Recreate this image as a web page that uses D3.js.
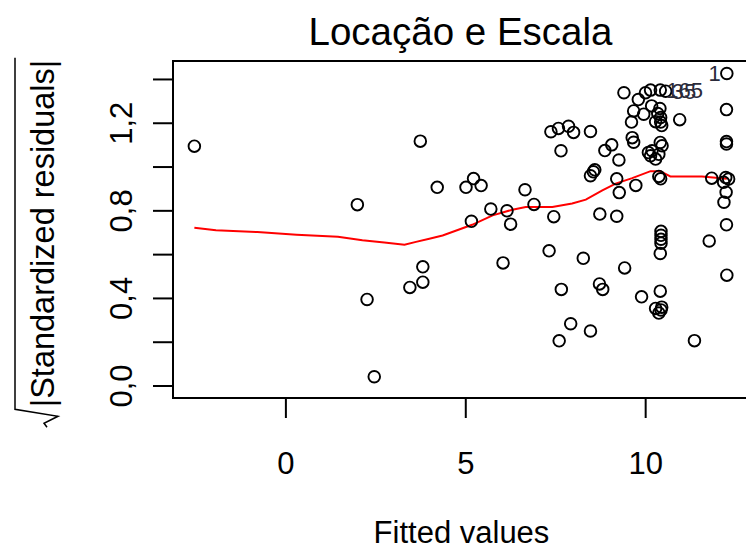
<!DOCTYPE html>
<html>
<head>
<meta charset="utf-8">
<script src="https://cdn.jsdelivr.net/npm/d3@7"></script>
<style>
  body { margin: 0; background: #fff; }
  svg { display: block; font-family: "Liberation Sans", Arial, sans-serif; }
</style>
</head>
<body>
<div id="chart"></div>
<script>
// fitted values and sqrt(|standardized residuals|)
var fitted = [-2.53, 2.00, 2.27, 2.47, 3.46, 3.75, 3.82, 3.82, 4.22, 5.02,
    5.23, 5.44, 5.17, 5.71, 6.05, 6.16, 6.26, 6.66, 6.91, 7.33,
    7.38, 7.46, 7.59, 7.61, 7.66, 7.67, 7.87, 7.93, 8.01, 8.28,
    8.48, 8.48, 8.48, 8.56, 8.60, 8.74, 8.73, 8.82, 8.88, 9.07,
    9.21, 9.21, 9.27, 9.28, 9.41, 9.43, 9.62, 9.64, 9.68, 9.68,
    9.74, 9.81, 9.90, 9.96, 10.01, 10.15, 10.42, 10.57, 10.18, 10.41,
    10.35, 10.43, 10.29, 10.43, 10.46, 10.96, 10.09, 10.15, 10.19, 10.29,
    10.38, 10.42, 10.47, 10.38, 10.43, 10.44, 10.44, 10.44, 10.44, 10.42,
    10.42, 10.29, 10.44, 10.38, 10.46, 11.37, 11.78, 11.85, 12.24, 12.32,
    12.18, 12.25, 12.19, 12.26, 12.27, 12.26, 12.26, 12.26, 12.27];
var sqrtRes = [1.093, 0.826, 0.393, 0.040, 0.448, 1.116, 0.542, 0.472, 0.905, 0.905,
    0.945, 0.913, 0.750, 0.806, 0.560, 0.798, 0.737, 0.894, 0.827, 0.615,
    1.159, 0.771, 1.174, 0.204, 1.072, 0.439, 1.184, 0.282, 1.156, 0.581,
    1.160, 0.249, 0.958, 0.976, 0.985, 0.783, 0.464, 0.439, 1.073, 1.099,
    0.773, 0.944, 1.030, 0.881, 1.337, 0.537, 1.203, 1.132, 1.111, 1.254,
    0.914, 1.306, 0.405, 1.239, 1.337, 1.349, 1.349, 1.344, 1.277, 1.265,
    1.242, 1.224, 1.205, 1.203, 1.187, 1.214, 1.064, 1.049, 1.072, 1.034,
    1.056, 1.110, 1.095, 0.955, 0.944, 0.704, 0.686, 0.668, 0.650, 0.603,
    0.431, 0.352, 0.345, 0.331, 0.358, 0.205, 0.660, 0.947, 0.950, 0.943,
    0.928, 0.883, 0.837, 0.734, 0.504, 1.114, 1.103, 1.260, 1.425];

// red smoother
var smoothX = [-2.53, -1.93, -0.78, 0.31, 1.46, 2.14, 2.75, 3.31, 3.63, 4.00,
    4.37, 4.79, 5.19, 5.76, 6.31, 6.68, 7.42, 7.97, 8.35, 8.81,
    9.18, 9.64, 10.15, 10.42, 10.70, 11.58, 12.27];
var smoothY = [0.721, 0.709, 0.701, 0.689, 0.679, 0.663, 0.653, 0.643, 0.656, 0.670,
    0.685, 0.710, 0.734, 0.777, 0.803, 0.815, 0.815, 0.831, 0.849, 0.891,
    0.922, 0.947, 0.979, 0.979, 0.955, 0.955, 0.944];

// labelled observations (index into the arrays above)
var idIndex = [98, 56, 57];
var idText = ["1", "165", "35"];
var idPos = ["left", "right", "right"];

var xTicks = [0, 5, 10];
var yTicks = [0, 0.2, 0.4, 0.6, 0.8, 1.0, 1.2, 1.4];
var yTickLabels = [0, 0.4, 0.8, 1.2];

var W = 746, H = 550;
var plotL = 173, plotR = 750, plotT = 61, plotB = 398;

var svg = d3.select("#chart").append("svg")
    .attr("width", W)
    .attr("height", H);

// R-style 4% expansion
var xr = d3.extent(fitted), xp = (xr[1] - xr[0]) * 0.04;
var ymax = d3.max(sqrtRes), yp = ymax * 0.04;

var x = d3.scaleLinear().domain([xr[0] - xp, xr[1] + xp]).range([plotL, plotR]);
var y = d3.scaleLinear().domain([0 - yp, ymax + yp]).range([plotB, plotT]);

var axisFont = 31;

// x axis
var gx = svg.append("g")
    .attr("transform", "translate(0," + plotB + ")")
    .call(d3.axisBottom(x).tickValues(xTicks).tickSize(20).tickPadding(34)
        .tickFormat(d3.format("d")));
gx.select(".domain").remove();
gx.selectAll("line").attr("stroke", "#000").attr("stroke-width", 2);
gx.selectAll("text").attr("font-size", axisFont).attr("fill", "#000")
    .attr("font-family", "Liberation Sans, Arial, sans-serif");

// y axis, labels parallel to axis
var gy = svg.append("g")
    .attr("transform", "translate(" + plotL + ",0)")
    .call(d3.axisLeft(y).tickValues(yTicks).tickSize(20)
        .tickFormat(function (d) {
            var show = yTickLabels.some(function (v) { return Math.abs(v - d) < 1e-9; });
            return show ? d3.format(".1f")(d).replace(".", ",") : "";
        }));
gy.select(".domain").remove();
gy.selectAll("line").attr("stroke", "#000").attr("stroke-width", 2);
gy.selectAll("text")
    .attr("x", null).attr("dy", null)
    .attr("transform", "rotate(-90)")
    .attr("y", -41)
    .attr("text-anchor", "middle")
    .attr("font-size", axisFont).attr("fill", "#000")
    .attr("font-family", "Liberation Sans, Arial, sans-serif");

// smoother
var line = d3.line()
    .x(function (d, i) { return x(smoothX[i]); })
    .y(function (d, i) { return y(smoothY[i]); });

svg.append("path")
    .datum(smoothX)
    .attr("d", line)
    .style("fill", "none")
    .style("stroke", "#ff0000")
    .style("stroke-width", "2px");

// points
svg.append("g").selectAll("circle")
    .data(fitted)
    .enter().append("circle")
    .attr("cx", function (d) { return x(d); })
    .attr("cy", function (d, i) { return y(sqrtRes[i]); })
    .attr("r", 5.8)
    .style("fill", "none")
    .style("stroke", "#000")
    .style("stroke-width", "1.9px");

// id labels
svg.append("g").selectAll("text")
    .data(idIndex)
    .enter().append("text")
    .attr("x", function (d, i) { return x(fitted[d]) + (idPos[i] === "left" ? -6 : 6); })
    .attr("y", function (d) { return y(sqrtRes[d]); })
    .attr("dy", "0.36em")
    .attr("text-anchor", function (d, i) { return idPos[i] === "left" ? "end" : "start"; })
    .attr("font-size", 22)
    .attr("fill", "#2b2b3a")
    .text(function (d, i) { return idText[i]; });

// frame (right edge runs off the canvas)
svg.append("rect")
    .attr("x", plotL).attr("y", plotT)
    .attr("width", plotR - plotL).attr("height", plotB - plotT)
    .style("fill", "none")
    .style("stroke", "#000")
    .style("stroke-width", "2px");

// title
svg.append("text")
    .attr("x", (plotL + plotR) / 2 - 1)
    .attr("y", 45)
    .attr("text-anchor", "middle")
    .attr("font-size", 38.5)
    .attr("fill", "#000")
    .text("Locação e Escala");

// x label
svg.append("text")
    .attr("x", (plotL + plotR) / 2)
    .attr("y", 543)
    .attr("text-anchor", "middle")
    .attr("font-size", axisFont)
    .attr("fill", "#000")
    .text("Fitted values");

// y label: sqrt(|Standardized residuals|)
var yl = svg.append("g")
    .attr("transform", "translate(43," + ((plotT + plotB) / 2 + 4) + ") rotate(-90)");
var ylt = yl.append("text")
    .attr("text-anchor", "middle")
    .attr("dy", "0.35em")
    .attr("font-size", 32.5)
    .attr("fill", "#000")
    .text("|Standardized residuals|");
var L = ylt.node().getComputedTextLength();
var s = -L / 2;
yl.append("path")
    .attr("d", "M" + (s - 20) + ",4 L" + (s - 16) + ",1 L" + (s - 9) + ",15 L" + (s - 2) + ",-28 L" + (-s + 2) + ",-28")
    .style("fill", "none")
    .style("stroke", "#000")
    .style("stroke-width", "1.5px");
</script>
</body>
</html>
